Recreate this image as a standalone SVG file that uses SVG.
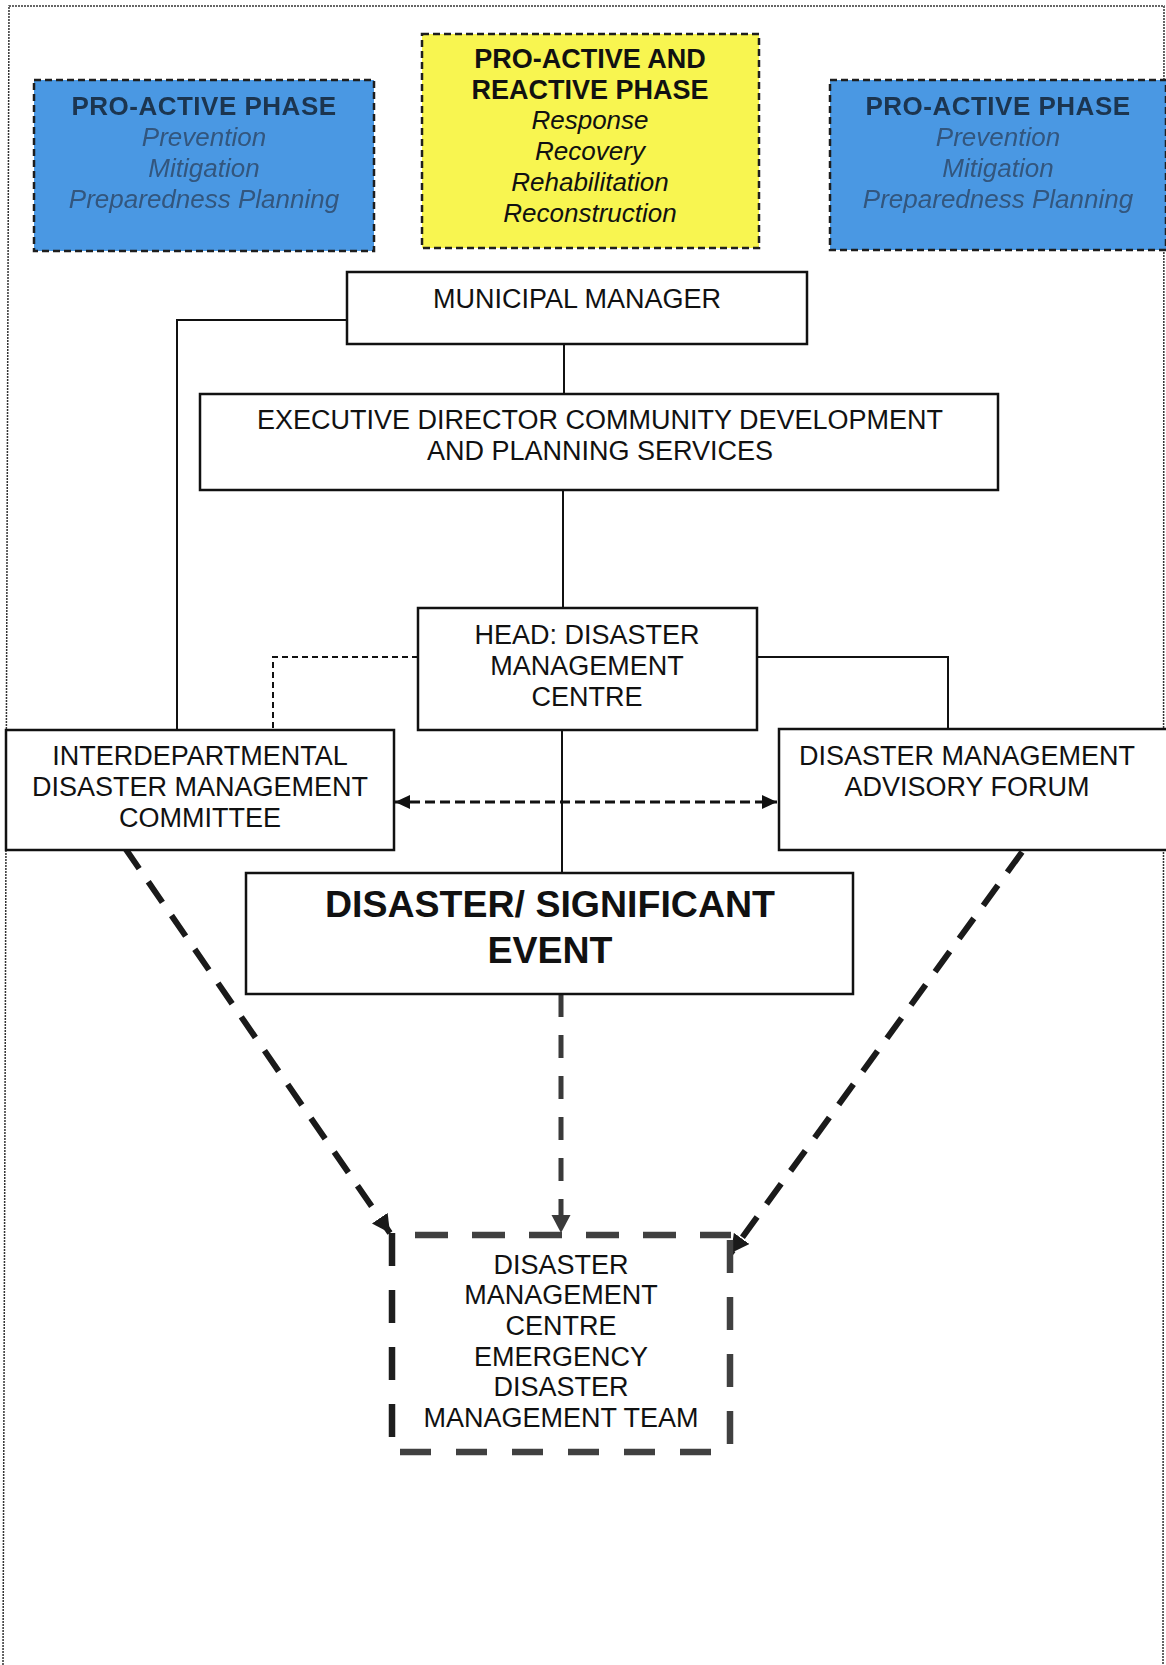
<svg xmlns="http://www.w3.org/2000/svg" width="1166" height="1665" viewBox="0 0 1166 1665">
  <style>
    .frame { fill: none; stroke: #333; stroke-width: 1.5; stroke-dasharray: 2 1; }
    .box { fill: #fff; stroke: #111; stroke-width: 2.5; }
    .phase { stroke: #1e1e1e; stroke-width: 2.5; stroke-dasharray: 7 4; }
    .blue { fill: #4a98e3; }
    .yellow { fill: #f8f550; }
    .t { font-family: "Liberation Sans", Arial, sans-serif; font-size: 27px; fill: #111; text-anchor: middle; }
    .p { font-size: 26px; }
    .b { font-weight: bold; }
    .i { font-style: italic; }
    .bt { fill: #1b3450; }
    .bi { fill: #33567e; }
    .big { font-size: 37.5px; font-weight: bold; }
    .solid { fill: none; stroke: #111; stroke-width: 2; }
    .thin-dash { fill: none; stroke: #111; stroke-width: 2; stroke-dasharray: 6 4; }
    .arrow-dash { fill: none; stroke: #111; stroke-width: 3; stroke-dasharray: 10 5; }
    .heavy-dash { fill: none; stroke: #1a1a1a; stroke-width: 6; stroke-dasharray: 25 16; }
    .mid-dash { fill: none; stroke: #3a3a3a; stroke-width: 5; stroke-dasharray: 23 18; }
    .team { fill: none; stroke: #404040; stroke-width: 6.5; stroke-dasharray: 33 24; }
  </style>
  <defs>
    <marker id="tipSmall" markerUnits="userSpaceOnUse" markerWidth="16" markerHeight="14" refX="15" refY="7" orient="auto-start-reverse">
      <path d="M0,0 L15,7 L0,14 Z" fill="#111"/>
    </marker>
    <marker id="tipBig" markerUnits="userSpaceOnUse" markerWidth="20" markerHeight="20" refX="18" refY="9.5" orient="auto">
      <path d="M0,0 L18,9.5 L0,19 Z" fill="#1a1a1a"/>
    </marker>
    <marker id="tipGrey" markerUnits="userSpaceOnUse" markerWidth="20" markerHeight="20" refX="18" refY="9.5" orient="auto">
      <path d="M0,0 L18,9.5 L0,19 Z" fill="#3a3a3a"/>
    </marker>
    <filter id="soft" x="-5%" y="-5%" width="110%" height="110%">
      <feGaussianBlur stdDeviation="0.7"/>
    </filter>
  </defs>

  <rect width="1166" height="1665" fill="#fff"/>

  <!-- page frame -->
  <path class="frame" d="M3,1665 L9,6 L1164,6 L1163,1665"/>

  <!-- connectors -->
  <g id="connectors">
    <polyline class="solid" points="347,320 177,320 177,730"/>
    <line class="solid" x1="564" y1="344" x2="564" y2="394"/>
    <line class="solid" x1="563" y1="490" x2="563" y2="608"/>
    <line class="solid" x1="562" y1="730" x2="562" y2="873"/>
    <polyline class="thin-dash" points="418,657 273,657 273,730"/>
    <polyline class="solid" points="757,657 948,657 948,729"/>
    <line class="arrow-dash" x1="395" y1="802" x2="777" y2="802" marker-start="url(#tipSmall)" marker-end="url(#tipSmall)"/>
    <line class="heavy-dash" x1="125" y1="848" x2="390" y2="1233" marker-end="url(#tipBig)"/>
    <line class="heavy-dash" x1="1022" y1="852" x2="731" y2="1253" marker-end="url(#tipBig)"/>
    <line class="mid-dash" x1="561" y1="994" x2="561" y2="1233" marker-end="url(#tipGrey)"/>
  </g>

  <!-- phase boxes -->
  <g id="proactive-left">
    <rect class="blue phase" x="34" y="80" width="340" height="171"/>
    <g filter="url(#soft)">
      <text class="t p b bt" x="204" y="115" letter-spacing="0.5">PRO-ACTIVE PHASE</text>
      <text class="t p i bi" x="204" y="146">Prevention</text>
      <text class="t p i bi" x="204" y="177">Mitigation</text>
      <text class="t p i bi" x="204" y="208">Preparedness Planning</text>
    </g>
  </g>

  <g id="proactive-reactive">
    <rect class="yellow phase" x="422" y="34" width="337" height="214"/>
    <text class="t b" x="590" y="68">PRO-ACTIVE AND</text>
    <text class="t b" x="590" y="99">REACTIVE PHASE</text>
    <text class="t p i" x="590" y="129">Response</text>
    <text class="t p i" x="590" y="160">Recovery</text>
    <text class="t p i" x="590" y="191">Rehabilitation</text>
    <text class="t p i" x="590" y="222">Reconstruction</text>
  </g>

  <g id="proactive-right">
    <rect class="blue phase" x="830" y="80" width="336" height="170"/>
    <g filter="url(#soft)">
      <text class="t p b bt" x="998" y="115" letter-spacing="0.5">PRO-ACTIVE PHASE</text>
      <text class="t p i bi" x="998" y="146">Prevention</text>
      <text class="t p i bi" x="998" y="177">Mitigation</text>
      <text class="t p i bi" x="998" y="208">Preparedness Planning</text>
    </g>
  </g>

  <!-- organisation boxes -->
  <g id="municipal-manager">
    <rect class="box" x="347" y="272" width="460" height="72"/>
    <text class="t" x="577" y="308">MUNICIPAL MANAGER</text>
  </g>

  <g id="executive-director">
    <rect class="box" x="200" y="394" width="798" height="96"/>
    <text class="t" x="600" y="429">EXECUTIVE DIRECTOR COMMUNITY DEVELOPMENT</text>
    <text class="t" x="600" y="460">AND PLANNING SERVICES</text>
  </g>

  <g id="head-dmc">
    <rect class="box" x="418" y="608" width="339" height="122"/>
    <text class="t" x="587" y="644">HEAD: DISASTER</text>
    <text class="t" x="587" y="675">MANAGEMENT</text>
    <text class="t" x="587" y="706">CENTRE</text>
  </g>

  <g id="interdepartmental">
    <rect class="box" x="6" y="730" width="388" height="120"/>
    <text class="t" x="200" y="765">INTERDEPARTMENTAL</text>
    <text class="t" x="200" y="796">DISASTER MANAGEMENT</text>
    <text class="t" x="200" y="827">COMMITTEE</text>
  </g>

  <g id="advisory-forum">
    <rect class="box" x="779" y="729" width="390" height="121"/>
    <text class="t" x="967" y="765">DISASTER MANAGEMENT</text>
    <text class="t" x="967" y="796">ADVISORY FORUM</text>
  </g>

  <g id="significant-event">
    <rect class="box" x="246" y="873" width="607" height="121"/>
    <text class="t big" x="550" y="917">DISASTER/ SIGNIFICANT</text>
    <text class="t big" x="550" y="963">EVENT</text>
  </g>

  <g id="emergency-team">
    <line class="team" x1="415" y1="1235" x2="731" y2="1235"/>
    <line class="team" x1="392" y1="1233" x2="392" y2="1440" style="stroke:#1e1e1e"/>
    <line class="team" x1="730" y1="1240" x2="730" y2="1446"/>
    <line class="team" x1="400" y1="1452" x2="715" y2="1452" style="stroke-dasharray:31 25"/>
    <text class="t" x="561" y="1274">DISASTER</text>
    <text class="t" x="561" y="1304">MANAGEMENT</text>
    <text class="t" x="561" y="1335">CENTRE</text>
    <text class="t" x="561" y="1366">EMERGENCY</text>
    <text class="t" x="561" y="1396">DISASTER</text>
    <text class="t" x="561" y="1427">MANAGEMENT TEAM</text>
  </g>
</svg>
